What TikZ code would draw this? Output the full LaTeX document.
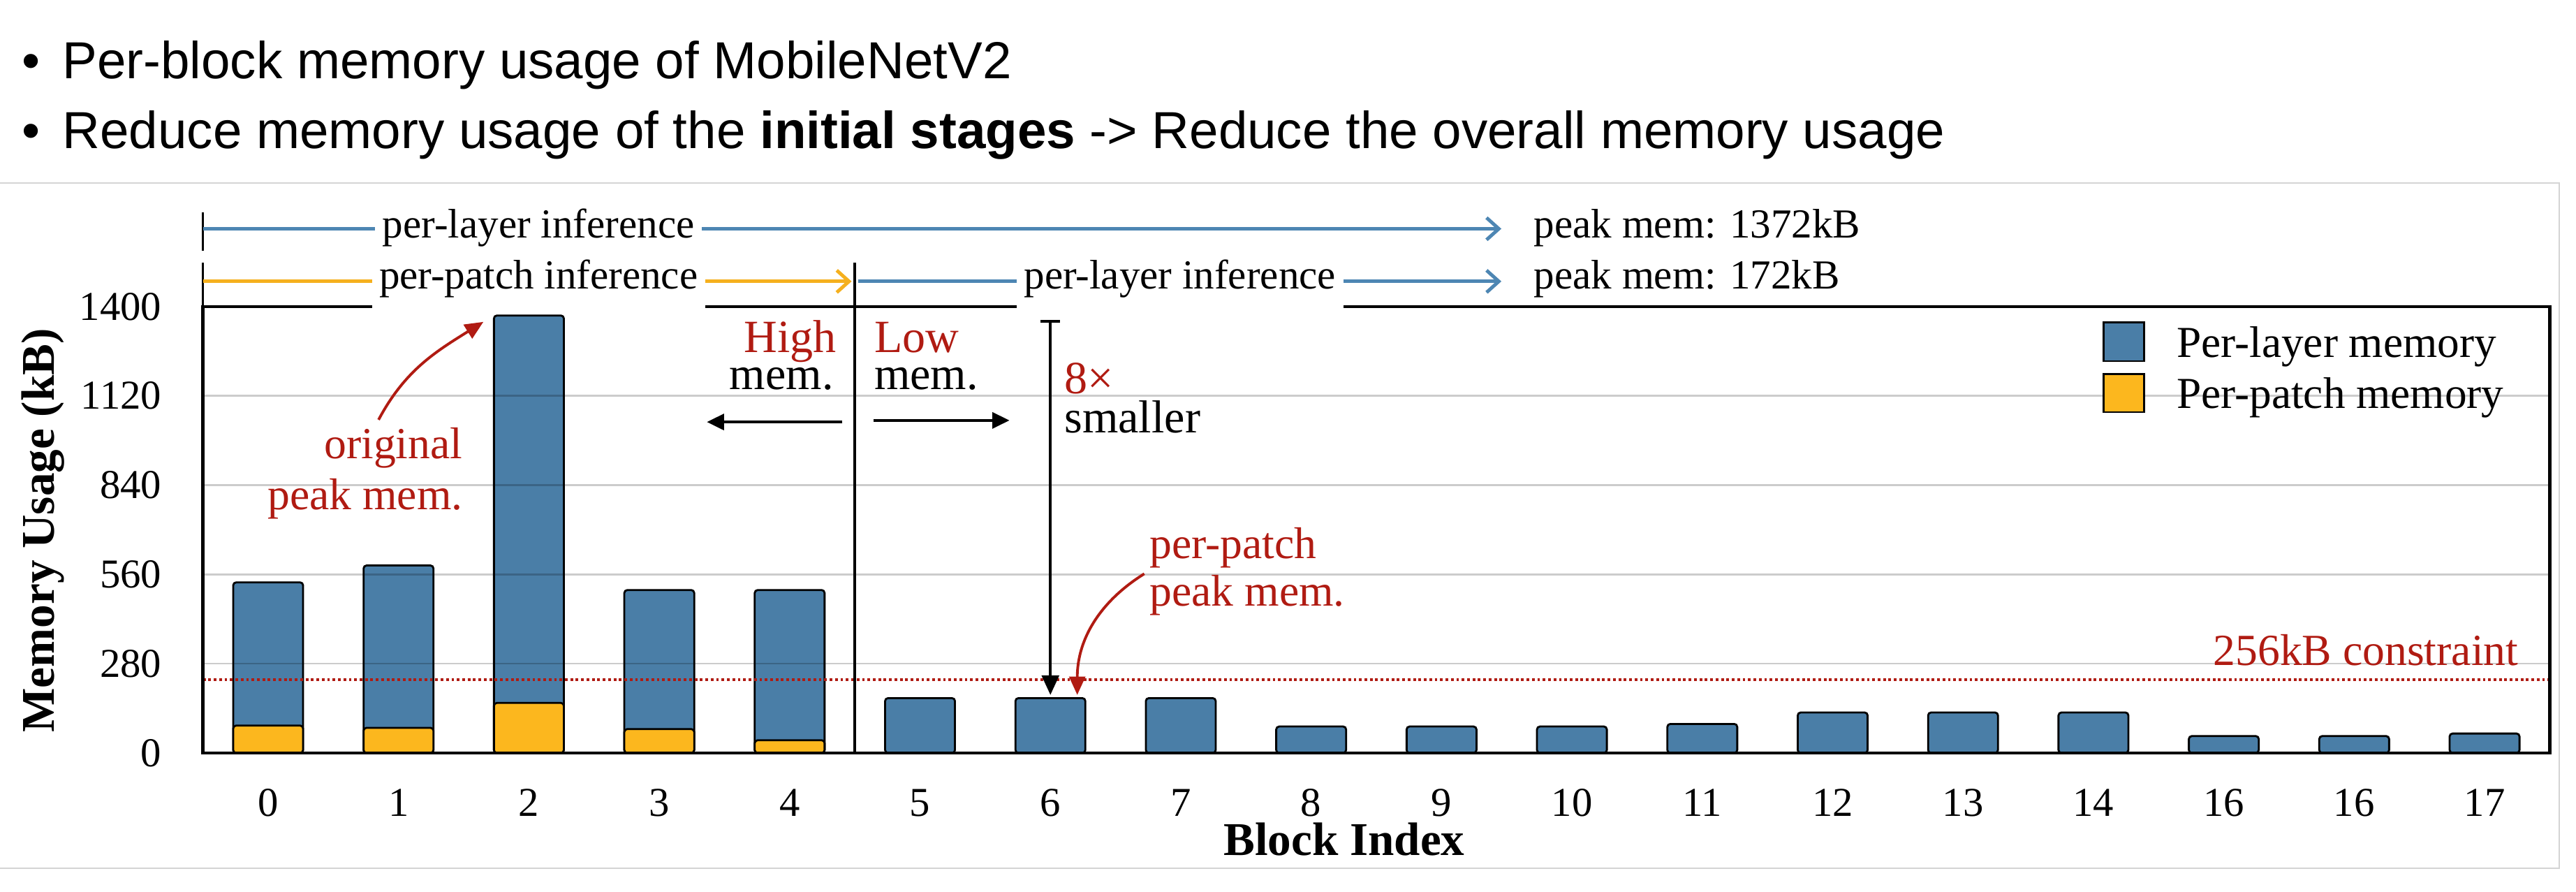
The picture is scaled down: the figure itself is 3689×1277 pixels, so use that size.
\documentclass[tikz,border=0pt]{standalone}
\usepackage{fontspec}
\setmainfont{Liberation Serif}
\newfontfamily\slidefont{Liberation Sans}
\usetikzlibrary{arrows.meta}

\definecolor{layerblue}{HTML}{4A7EA7}
\definecolor{patchorange}{HTML}{FCB71E}
\definecolor{layerline}{HTML}{4D86B3}
\definecolor{patchline}{HTML}{F5B01E}
\definecolor{memred}{HTML}{B01B12}
\definecolor{framegray}{HTML}{D4D4D4}

\tikzset{
  layerbar/.style={draw=black, line width=0.8pt, fill=layerblue, rounded corners=1.2pt},
  patchbar/.style={draw=black, line width=0.8pt, fill=patchorange, rounded corners=1.2pt},
  gridrule/.style={draw=black, opacity=0.2, line width=0.7pt},
  limitrule/.style={draw=memred, line width=1.1pt, dash pattern=on 1.1pt off 1.1pt},
  rowarrow/.style={line width=1.4pt, -{Straight Barb[length=5pt,width=9pt]}},
  rowlabel/.style={fill=white, inner xsep=3pt, inner ysep=4.6pt, anchor=base, font=\fontsize{16.8}{20}\selectfont},
  peaklabel/.style={inner sep=0pt, anchor=base west, font=\fontsize{16.8}{20}\selectfont},
  ticklabel/.style={inner sep=0pt, font=\fontsize{16.7}{20}\selectfont},
  axistitle/.style={inner sep=0pt, font=\fontsize{19.1}{22}\selectfont\bfseries},
  memtext/.style={inner sep=0pt, font=\fontsize{18.8}{22}\selectfont},
  notetext/.style={inner sep=0pt, text=memred, font=\fontsize{18.1}{22}\selectfont},
  legendtext/.style={inner sep=0pt, anchor=base west, font=\fontsize{18}{22}\selectfont},
  blackarrow/.style={line width=1.2pt, -{Triangle[length=7pt,width=6.5pt]}},
  redarrow/.style={memred, line width=1.1pt, -{Triangle[length=7.5pt,width=6.5pt]}},
  bullettext/.style={inner sep=0pt, anchor=base west, font=\slidefont\fontsize{21.2}{26}\selectfont},
}

\begin{document}
\begin{tikzpicture}[x=0.01cm, y=0.01cm]
  \useasboundingbox (0,0) rectangle (3689,1277);

  % slide bullets
  \node[bullettext, anchor=base] (dotA) at (45,1164) {•};
  \node[bullettext] (lineA) at (89,1164) {Per-block memory usage of MobileNetV2};
  \node[bullettext, anchor=base] (dotB) at (45,1064) {•};
  \node[bullettext] (lineB) at (89,1064) {Reduce memory usage of the \textbf{initial stages} -> Reduce the overall memory usage};

  % figure frame
  \draw[framegray, line width=0.8pt] (-20,1015) -- (3665,1015) -- (3665,34) -- (-20,34);

  % chart: x in block index, y in kB
  \begin{scope}[shift={(384,199)}, x=1.866cm, y=0.004557cm]
    % per-layer bars
    \draw[layerbar] (-0.268,0) rectangle (0.268,535);
    \draw[layerbar] (0.732,0) rectangle (1.268,588);
    \draw[layerbar] (1.732,0) rectangle (2.268,1372);
    \draw[layerbar] (2.732,0) rectangle (3.268,511);
    \draw[layerbar] (3.732,0) rectangle (4.268,511);
    \draw[layerbar] (4.732,0) rectangle (5.268,172);
    \draw[layerbar] (5.732,0) rectangle (6.268,172);
    \draw[layerbar] (6.732,0) rectangle (7.268,172);
    \draw[layerbar] (7.732,0) rectangle (8.268,83);
    \draw[layerbar] (8.732,0) rectangle (9.268,83);
    \draw[layerbar] (9.732,0) rectangle (10.268,83);
    \draw[layerbar] (10.732,0) rectangle (11.268,91);
    \draw[layerbar] (11.732,0) rectangle (12.268,127);
    \draw[layerbar] (12.732,0) rectangle (13.268,127);
    \draw[layerbar] (13.732,0) rectangle (14.268,127);
    \draw[layerbar] (14.732,0) rectangle (15.268,53);
    \draw[layerbar] (15.732,0) rectangle (16.268,53);
    \draw[layerbar] (16.732,0) rectangle (17.268,61);

    % per-patch bars of the first stages
    \draw[patchbar] (-0.268,0) rectangle (0.268,86);
    \draw[patchbar] (0.732,0) rectangle (1.268,79);
    \draw[patchbar] (1.732,0) rectangle (2.268,157);
    \draw[patchbar] (2.732,0) rectangle (3.268,75);
    \draw[patchbar] (3.732,0) rectangle (4.268,40);

    % grid
    \draw[gridrule] (-0.5,280) -- (17.5,280);
    \draw[gridrule] (-0.5,560) -- (17.5,560);
    \draw[gridrule] (-0.5,840) -- (17.5,840);
    \draw[gridrule] (-0.5,1120) -- (17.5,1120);

    % sram limit
    \draw[limitrule] (-0.5,230) -- (17.5,230);
    \node[notetext, anchor=base east] (limit) at (17.262,274) {256kB constraint};

    \draw[line width=1.3pt] (-0.5,0) rectangle (17.5,1400);
    \draw[line width=1.2pt] (4.5,0) -- (4.5,1538);

    % inference schedules on top
    \draw[line width=1pt] (-0.5,1696) -- (-0.5,1576);
    \draw[line width=1pt] (-0.5,1538) -- (-0.5,1400);

    \coordinate (rowAstart) at (-0.5,1644);
    \coordinate (rowAend) at (9.459,1644);
    \draw[rowarrow, layerline] (rowAstart) -- (rowAend);
    \node[rowlabel] (layerA) at (2.074,1615) {per-layer inference};
    \node[peaklabel] (peakA) at (9.705,1615) {peak mem: 1372kB};

    \coordinate (rowBstart) at (-0.5,1479);
    \coordinate (rowBmid) at (4.475,1479);
    \coordinate (rowCstart) at (4.528,1479);
    \coordinate (rowCend) at (9.459,1479);
    \draw[rowarrow, patchline] (rowBstart) -- (rowBmid);
    \draw[rowarrow, layerline] (rowCstart) -- (rowCend);
    \node[rowlabel] (patchB) at (2.074,1455) {per-patch inference};
    \node[rowlabel] (layerC) at (6.994,1455) {per-layer inference};
    \node[peaklabel] (peakB) at (9.705,1455) {peak mem: 172kB};

    % high / low memory sides
    \node[memtext, text=memred, anchor=base east] (high) at (4.362,1257) {High};
    \node[memtext, anchor=base east] (highmem) at (4.340,1141) {mem.};
    \node[memtext, text=memred, anchor=base west] (low) at (4.646,1257) {Low};
    \node[memtext, anchor=base west] (lowmem) at (4.646,1141) {mem.};
    \coordinate (hstart) at (4.405,1038);
    \coordinate (hend) at (3.365,1038);
    \coordinate (lstart) at (4.641,1043);
    \coordinate (lend) at (5.686,1043);
    \draw[blackarrow] (hstart) -- (hend);
    \draw[blackarrow] (lstart) -- (lend);

    % reduction
    \coordinate (shrinktop) at (6,1358);
    \coordinate (shrinktip) at (6,182);
    \draw[line width=1.2pt, {Bar[width=8pt]}-{Triangle[length=8pt,width=7pt]}] (shrinktop) -- (shrinktip);
    \node[memtext, text=memred, anchor=base west] (eight) at (6.104,1126) {8×};
    \node[memtext, anchor=base west] (smaller) at (6.104,1005) {smaller};

    % peak annotations
    \node[notetext, anchor=base east] (origA) at (1.495,924) {original};
    \node[notetext, anchor=base east] (origB) at (1.495,764) {peak mem.};
    \coordinate (origtail) at (0.847,1045);
    \coordinate (orighead) at (1.651,1352);
    \draw[redarrow] (origtail) to[out=62,in=212] (orighead);

    \node[notetext, anchor=base west] (patchA) at (6.758,610) {per-patch};
    \node[notetext, anchor=base west] (patchP) at (6.758,461) {peak mem.};
    \coordinate (patchtail) at (6.72,562);
    \coordinate (patchhead) at (6.206,182);
    \draw[redarrow] (patchtail) to[out=212,in=90] (patchhead);

    % legend
    \draw[layerbar, rounded corners=0pt] (14.078,1229) rectangle (14.389,1350);
    \draw[patchbar, rounded corners=0pt] (14.078,1069) rectangle (14.389,1189);
    \node[legendtext] (keylayer) at (14.636,1242) {Per-layer memory};
    \node[legendtext] (keypatch) at (14.636,1082) {Per-patch memory};

    % y ticks
    \node[ticklabel, anchor=east] (yt0) at (-0.815,0) {0};
    \node[ticklabel, anchor=east] (yt1) at (-0.815,280) {280};
    \node[ticklabel, anchor=east] (yt2) at (-0.815,560) {560};
    \node[ticklabel, anchor=east] (yt3) at (-0.815,840) {840};
    \node[ticklabel, anchor=east] (yt4) at (-0.815,1120) {1120};
    \node[ticklabel, anchor=east] (yt5) at (-0.815,1400) {1400};

    % x ticks
    \node[ticklabel, anchor=base] (xt0) at (0,-197.5) {0};
    \node[ticklabel, anchor=base] (xt1) at (1,-197.5) {1};
    \node[ticklabel, anchor=base] (xt2) at (2,-197.5) {2};
    \node[ticklabel, anchor=base] (xt3) at (3,-197.5) {3};
    \node[ticklabel, anchor=base] (xt4) at (4,-197.5) {4};
    \node[ticklabel, anchor=base] (xt5) at (5,-197.5) {5};
    \node[ticklabel, anchor=base] (xt6) at (6,-197.5) {6};
    \node[ticklabel, anchor=base] (xt7) at (7,-197.5) {7};
    \node[ticklabel, anchor=base] (xt8) at (8,-197.5) {8};
    \node[ticklabel, anchor=base] (xt9) at (9,-197.5) {9};
    \node[ticklabel, anchor=base] (xt10) at (10,-197.5) {10};
    \node[ticklabel, anchor=base] (xt11) at (11,-197.5) {11};
    \node[ticklabel, anchor=base] (xt12) at (12,-197.5) {12};
    \node[ticklabel, anchor=base] (xt13) at (13,-197.5) {13};
    \node[ticklabel, anchor=base] (xt14) at (14,-197.5) {14};
    \node[ticklabel, anchor=base] (xt15) at (15,-197.5) {16};
    \node[ticklabel, anchor=base] (xt16) at (16,-197.5) {16};
    \node[ticklabel, anchor=base] (xt17) at (17,-197.5) {17};

    \node[axistitle, anchor=base] (xtitle) at (8.253,-320) {Block Index};
    \node[axistitle, anchor=base, rotate=90] (ytitle) at (-1.640,698) {Memory Usage (kB)};
  \end{scope}
\end{tikzpicture}
\end{document}
